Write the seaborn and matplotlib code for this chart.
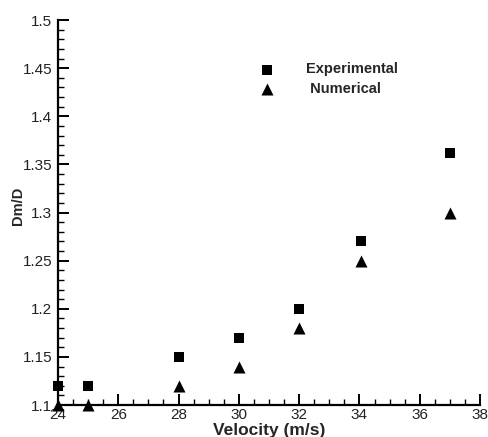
import numpy as np
import pandas as pd
import matplotlib
matplotlib.use("Agg")
import matplotlib.pyplot as plt
from matplotlib.ticker import MultipleLocator
import seaborn as sns

velocity = [24, 25, 28, 30, 32, 34.05, 37]
experimental = [1.12, 1.12, 1.15, 1.17, 1.20, 1.27, 1.362]
numerical = [1.10, 1.10, 1.12, 1.14, 1.18, 1.25, 1.30]
series_names = ["Experimental", " Numerical"]
y_tick_labels = ["1.1", "1.15", "1.2", "1.25", "1.3", "1.35", "1.4", "1.45", "1.5"]

df = pd.concat([
    pd.DataFrame({"Velocity": velocity, "Dm/D": experimental, "Series": series_names[0]}),
    pd.DataFrame({"Velocity": velocity, "Dm/D": numerical, "Series": series_names[1]}),
])

sns.set_theme(style="ticks")
plt.rcParams["font.family"] = ["Liberation Sans", "DejaVu Sans"]

fig = plt.figure(figsize=(4.89, 4.37), dpi=100)
ax = fig.add_axes([0.1186, 0.0732, 0.863, 0.881])

for name, mk, sz in [(series_names[0], "s", 60), (series_names[1], "^", 75)]:
    sub = df[df["Series"] == name]
    sns.scatterplot(data=sub, x="Velocity", y="Dm/D", marker=mk, s=sz,
                    color="black", linewidth=0, ax=ax, label=name, clip_on=False)

ax.set_xlim(24, 38)
ax.set_ylim(1.1, 1.5)
ax.xaxis.set_major_locator(MultipleLocator(2))
ax.xaxis.set_minor_locator(MultipleLocator(0.5))
ax.yaxis.set_minor_locator(MultipleLocator(0.01))
ax.set_yticks(np.arange(1.1, 1.5001, 0.05))
ax.set_yticklabels(y_tick_labels)

for side in ["top", "right"]:
    ax.spines[side].set_visible(False)
for side in ["left", "bottom"]:
    ax.spines[side].set_linewidth(1.6)
    ax.spines[side].set_color("black")

ax.tick_params(which="major", direction="in", length=8, width=1.4, colors="black",
               labelsize=11, labelcolor="#222222", pad=4)
ax.tick_params(axis="x", which="major", pad=2)
ax.tick_params(which="minor", direction="in", length=4, width=1.0, colors="black")

ax.set_xlabel("Velocity (m/s)", fontsize=12.5, fontweight="bold", labelpad=1)
ax.set_ylabel("Dm/D", fontsize=10.5, fontweight="bold")
ax.yaxis.set_label_coords(-0.078, 0.517)

leg = ax.legend(loc="upper left", bbox_to_anchor=(0.464, 0.905), frameon=False,
                fontsize=10.5, handletextpad=2.2, labelspacing=0.38,
                borderaxespad=0, handlelength=1.0)
for t in leg.get_texts():
    t.set_fontweight("bold")

fig.savefig("out.png", dpi=100)
